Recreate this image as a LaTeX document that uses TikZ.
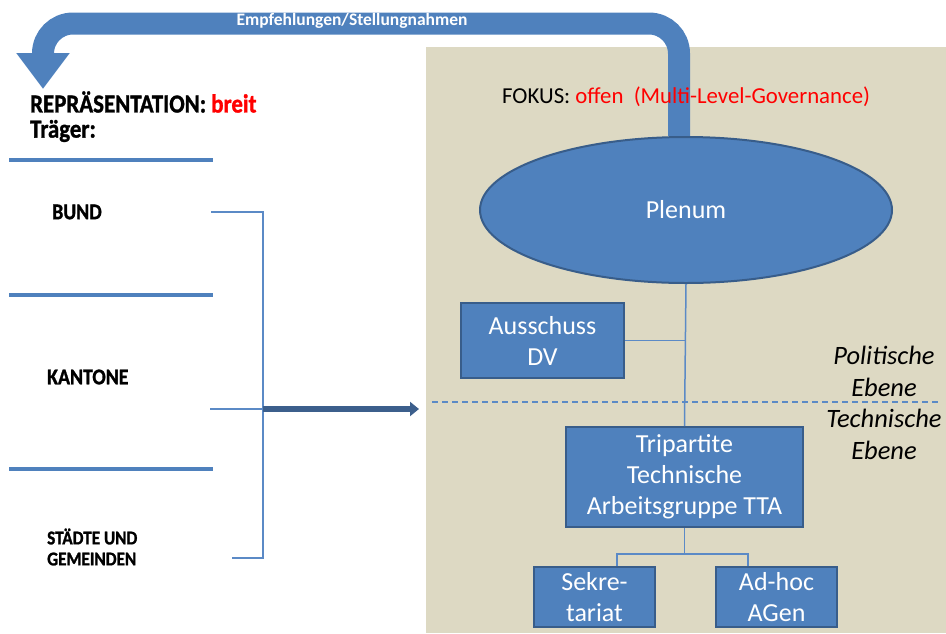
\documentclass[tikz,border=0pt]{standalone}
\usepackage{fontspec}
\setmainfont{Carlito}
\newfontfamily\condfont[FakeStretch=0.88,FakeBold=1.2]{Carlito}
\usetikzlibrary{arrows.meta,shapes.geometric,backgrounds}
\definecolor{obl}{HTML}{4F81BD}
\definecolor{obd}{HTML}{385D8A}
\definecolor{beige}{HTML}{DDD9C3}
\definecolor{arrdark}{HTML}{3C5F8C}
\definecolor{linel}{HTML}{5B8AC6}
\begin{document}
\begin{tikzpicture}[x=1pt,y=-1pt,
  box/.style={draw=obd, line width=2pt, fill=obl, text=white, align=center, inner sep=0pt,
    font=\fontsize{26}{31}\selectfont},
  conn/.style={draw=linel, line width=1.5pt},
  sepline/.style={draw=obl, line width=4pt},
  bracket/.style={draw=linel, line width=2.5pt},
  lefttxt/.style={anchor=west, inner sep=0pt, align=left, font=\condfont\bfseries\fontsize{19.5}{21}\selectfont},
  ebene/.style={align=center, inner sep=0pt, font=\itshape\fontsize{26.5}{32}\selectfont}]
\useasboundingbox (0,0) rectangle (946,633);

% main nodes
\node[box, ellipse, minimum width=412pt, minimum height=146pt] (plenum) at (686,210) {Plenum};
\node[box, minimum width=163pt, minimum height=75pt] (aus) at (542.5,340.5) {Ausschuss\\DV};
\node[box, minimum width=237pt, minimum height=100pt] (tta) at (684.5,477) {Tripartite\\Technische\\Arbeitsgruppe TTA};
\node[box, minimum width=121pt, minimum height=60pt] (sek) at (594.5,597) {Sekre-\\tariat};
\node[box, minimum width=121pt, minimum height=60pt] (adhoc) at (776.5,597) {Ad-hoc\\AGen};

\node[anchor=west, inner sep=0pt, font=\fontsize{22.8}{26}\selectfont] (fokus) at (502,97)
  {FOKUS: \textcolor{red}{offen \ (Multi-Level-Governance)}};

\begin{scope}[on background layer]
  \node[fill=beige, minimum width=520pt, minimum height=586pt, inner sep=0pt, anchor=north west] (panel) at (426,47) {};
  \draw[line width=22pt, obl, rounded corners=30pt, -{Triangle[width=51pt,length=36pt]}]
    ([xshift=-7pt]plenum.north) -- (679,23.5) -- (43,23.5) -- (43,89) coordinate (repr);
  \node[text=white, inner sep=0pt, font=\bfseries\fontsize{17.5}{20}\selectfont] (empf) at (352,20.5) {Empfehlungen/Stellungnahmen};
\end{scope}

% dashed level separator
\draw[linel, line width=1.2pt, dash pattern=on 6pt off 4pt] (432,402) coordinate (dl) -- (940,402) coordinate (dr);

% connectors
\draw[conn] (plenum.south) -- (tta.north);
\draw[conn] (aus.east) -- (aus.east -| plenum.south);
\draw[conn] (tta.south) -- ++(0,26) coordinate (fork);
\draw[conn] ([xshift=22.5pt]sek.north) |- (fork) -| ([xshift=-28.5pt]adhoc.north);

% level labels
\node[ebene] (pol) at (884,371) {Politische\\Ebene};
\node[ebene] (tech) at (884,434) {Technische\\Ebene};

% left side
\node[lefttxt, font=\condfont\bfseries\fontsize{26}{28}\selectfont] (rep) at (30,102) {REPRÄSENTATION: \textcolor{red}{breit}};
\node[lefttxt, font=\condfont\bfseries\fontsize{26}{28}\selectfont] (traeger) at (30,131) {Träger:};
\node[lefttxt, font=\condfont\bfseries\fontsize{22.5}{24}\selectfont] (bund) at (52,212) {BUND};
\node[lefttxt, font=\condfont\bfseries\fontsize{22.5}{24}\selectfont] (kant) at (47,377) {KANTONE};
\node[lefttxt] (staedte) at (47,547) {STÄDTE UND\\GEMEINDEN};

\draw[sepline] (9,160) coordinate (l1a) -- (213,160) coordinate (l1b);
\draw[sepline] (9,295) coordinate (l2a) -- (213,295) coordinate (l2b);
\draw[sepline] (9,469) coordinate (l3a) -- (213,469) coordinate (l3b);

\coordinate (bt) at (263,212);
\coordinate (bb) at (263,558);
\coordinate (bm) at (263,409);
\draw[bracket] (211,212) coordinate (bta) -- (bt) -- (bb) -- (232,558) coordinate (bba);
\draw[linel, line width=2pt] (210,409) coordinate (bma) -- (bm);
\draw[arrdark, line width=6pt, shorten >=7pt, -{Triangle[width=14pt,length=9pt]}] (bm) -- (panel.west |- bm);
\end{tikzpicture}
\end{document}
